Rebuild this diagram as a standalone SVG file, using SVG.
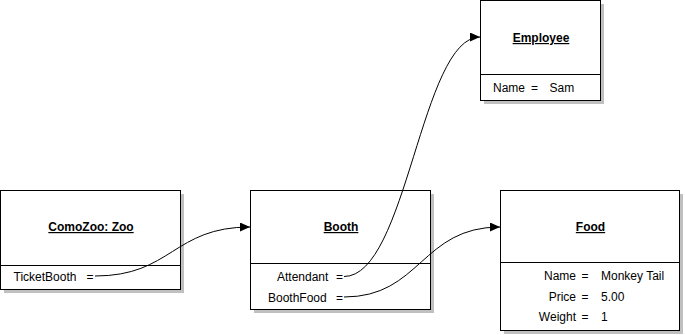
<svg xmlns="http://www.w3.org/2000/svg" width="685" height="335" viewBox="0 0 685 335">
<style>
.shadow{fill:#c0c0c0;stroke:none}
.box{fill:#ffffff;stroke:#000000;stroke-width:1}
.div{stroke:#000000;stroke-width:1}
text{font-family:"Liberation Sans",Arial,sans-serif;font-size:12px;fill:#000000}
.title{font-weight:bold;text-decoration:underline;text-anchor:middle}
.end{text-anchor:end}
.conn{fill:none;stroke:#000000;stroke-width:1}
</style>
<defs>
<marker id="arrow" viewBox="0 0 10 9" refX="10" refY="4.5" markerWidth="10" markerHeight="9" markerUnits="userSpaceOnUse" orient="auto">
<path d="M0,0 L10,4.5 L0,9 z" fill="#000000"/>
</marker>
</defs>
<rect width="685" height="335" fill="#ffffff"/>
<g id="employee">
<rect class="shadow" x="484" y="4" width="120" height="100"/>
<rect class="box" x="480.5" y="0.5" width="120" height="100"/>
<line class="div" x1="480.5" y1="74.5" x2="600.5" y2="74.5"/>
<text class="title" x="541" y="42">Employee</text>
<text x="493" y="92">Name</text>
<text x="531" y="92">=</text>
<text x="549.5" y="92">Sam</text>
</g>
<g id="zoo">
<rect class="shadow" x="4" y="194" width="180" height="99"/>
<rect class="box" x="0.5" y="190.5" width="180" height="99"/>
<line class="div" x1="0.5" y1="265.5" x2="180.5" y2="265.5"/>
<text class="title" x="91" y="231">ComoZoo: Zoo</text>
<text x="13.5" y="281">TicketBooth</text>
<text x="86.5" y="281">=</text>
</g>
<g id="booth">
<rect class="shadow" x="254" y="194" width="180" height="119"/>
<rect class="box" x="250.5" y="190.5" width="180" height="119"/>
<line class="div" x1="250.5" y1="263.5" x2="430.5" y2="263.5"/>
<text class="title" x="341" y="231">Booth</text>
<text x="277" y="281">Attendant</text>
<text x="336" y="281">=</text>
<text x="268" y="301.5">BoothFood</text>
<text x="336" y="301.5">=</text>
</g>
<g id="food">
<rect class="shadow" x="504" y="194" width="179" height="140"/>
<rect class="box" x="500.5" y="190.5" width="179" height="140"/>
<line class="div" x1="500.5" y1="262.5" x2="679.5" y2="262.5"/>
<text class="title" x="590.5" y="231">Food</text>
<text class="end" x="576" y="280">Name</text>
<text x="581.5" y="280">=</text>
<text x="601" y="280">Monkey Tail</text>
<text class="end" x="576" y="300.5">Price</text>
<text x="581.5" y="300.5">=</text>
<text x="601" y="300.5">5.00</text>
<text class="end" x="576" y="321">Weight</text>
<text x="581.5" y="321">=</text>
<text x="601" y="321">1</text>
</g>
<g id="connectors">
<path class="conn" d="M95,276 C172,276 173,227 250,227" marker-end="url(#arrow)"/>
<path class="conn" d="M344,276.5 C407,276.5 421,37 480,37" marker-end="url(#arrow)"/>
<path class="conn" d="M344,297 C421,297 421,227 500,227" marker-end="url(#arrow)"/>
</g>
</svg>
